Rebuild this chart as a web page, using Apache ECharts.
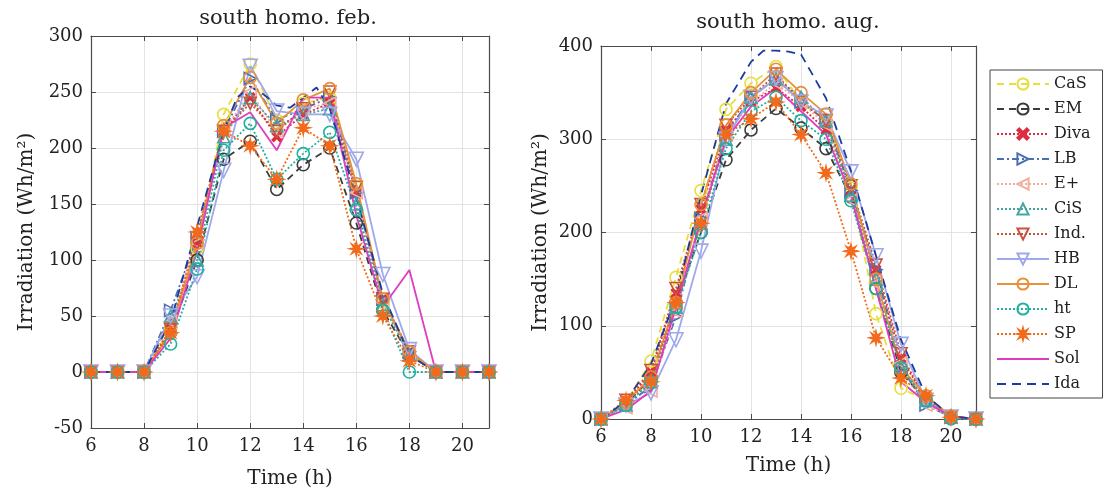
<!DOCTYPE html>
<html>
<head>
<meta charset="utf-8">
<script src="https://cdn.jsdelivr.net/npm/echarts@6/dist/echarts.min.js"></script>
<style>
  html, body { margin: 0; padding: 0; background: #fff; }
  #chart { width: 1111px; height: 498px; }
</style>
</head>
<body>
<div id="chart"></div>
<script>
// hourly samples, 6h .. 21h
const hours = [6, 7, 8, 9, 10, 11, 12, 13, 14, 15, 16, 17, 18, 19, 20, 21]

// --- february (left panel) ---
const febCaS  = [0, 0, 0, 40, 110, 230, 275, 225, 240, 245, 165, 62, 18, 0, 0, 0]
const febEM   = [0, 0, 0, 35, 100, 190, 206, 163, 185, 200, 133, 55, 15, 0, 0, 0]
const febDiva = [0, 0, 0, 38, 115, 215, 245, 210, 230, 240, 160, 65, 18, 0, 0, 0]
const febLB   = [0, 0, 0, 55, 120, 215, 262, 225, 235, 245, 160, 65, 18, 0, 0, 0]
const febEp   = [0, 0, 0, 45, 115, 215, 250, 215, 235, 240, 160, 62, 15, 0, 0, 0]
const febCiS  = [0, 0, 0, 50, 100, 210, 245, 220, 230, 235, 150, 60, 15, 0, 0, 0]
const febInd  = [0, 0, 0, 38, 115, 215, 240, 215, 235, 250, 165, 65, 18, 0, 0, 0]
const febHB   = [0, 0, 0, 50, 85, 180, 273, 233, 230, 230, 190, 87, 20, 0, 0, 0]
const febDL   = [0, 0, 0, 35, 115, 220, 263, 222, 243, 253, 168, 65, 18, 0, 0, 0]
const febHt   = [0, 0, 0, 25, 92, 198, 222, 172, 195, 214, 145, 55, 0, 0, 0, 0]
const febSP   = [0, 0, 0, 35, 125, 215, 202, 172, 218, 202, 110, 50, 10, 0, 0, 0]
const febSol  = [0, 0, 0, 30, 108, 218, 232, 198, 245, 245, 140, 58, 91, 0, 0, 0]
const idaFebHours = [6, 7, 8, 9, 10, 11, 11.5, 12, 12.5, 13, 13.5, 14, 14.5, 15, 16, 17, 18, 19, 20, 21]
const idaFeb      = [0, 0, 0, 45, 130, 215, 245, 255, 248, 238, 236, 245, 254, 235, 156, 70, 15, 0, 0, 0]

// --- august (right panel) ---
const augCaS  = [0, 18, 62, 152, 245, 332, 360, 378, 340, 320, 248, 113, 33, 20, 3, 0]
const augEM   = [0, 15, 45, 125, 200, 278, 310, 333, 312, 290, 238, 140, 50, 20, 2, 0]
const augDiva = [0, 18, 50, 135, 225, 310, 340, 355, 335, 310, 245, 160, 65, 22, 3, 0]
const augLB   = [0, 15, 35, 110, 215, 305, 345, 365, 340, 320, 245, 160, 55, 15, 2, 0]
const augEp   = [0, 12, 30, 115, 215, 305, 340, 360, 340, 315, 235, 145, 60, 15, 2, 0]
const augCiS  = [0, 15, 40, 120, 210, 300, 345, 365, 345, 320, 240, 150, 55, 20, 2, 0]
const augInd  = [0, 20, 52, 140, 230, 315, 345, 370, 340, 320, 250, 165, 70, 20, 2, 0]
const augHB   = [0, 15, 28, 85, 180, 300, 345, 365, 340, 325, 265, 175, 80, 20, 2, 0]
const augDL   = [0, 18, 45, 125, 230, 315, 350, 375, 350, 327, 252, 150, 55, 25, 3, 0]
const augHt   = [0, 15, 40, 120, 200, 290, 330, 345, 320, 300, 234, 140, 55, 20, 0, 0]
const augSP   = [0, 20, 40, 125, 210, 305, 322, 340, 305, 264, 180, 87, 44, 25, 2, 0]
const augSol  = [0, 10, 30, 120, 215, 300, 335, 355, 330, 305, 240, 140, 40, 18, 3, 0]
const idaAugHours = [6, 7, 8, 9, 10, 11, 12, 12.5, 13, 13.5, 14, 15, 16, 17, 18, 19, 20, 21]
const idaAug      = [0, 19, 59, 130, 240, 338, 383, 395, 395, 394, 391, 344, 266, 175, 85, 25, 3, 0]

const names = ['CaS', 'EM', 'Diva', 'LB', 'E+', 'CiS', 'Ind.', 'HB', 'DL', 'ht', 'SP', 'Sol', 'Ida']
const febSeries = [febCaS, febEM, febDiva, febLB, febEp, febCiS, febInd, febHB, febDL, febHt, febSP, febSol]
const augSeries = [augCaS, augEM, augDiva, augLB, augEp, augCiS, augInd, augHB, augDL, augHt, augSP, augSol]

// 8 point star for SP
const starPath = (() => {
  let d = ''
  for (let i = 0; i < 16; i++) {
    const r = i % 2 === 0 ? 5 : 2
    const a = (Math.PI / 8) * i - Math.PI / 2
    d += (i === 0 ? 'M' : 'L') + (5 + r * Math.cos(a)).toFixed(2) + ',' + (5 + r * Math.sin(a)).toFixed(2) + ' '
  }
  return 'path://' + d + 'Z'
})()

const NONE = 'rgba(0,0,0,0)'
const styles = {
  'CaS':  { color: '#e6df3c', type: [7, 5], symbol: 'circle', fill: NONE },
  'EM':   { color: '#3b3b3b', type: [7, 5], symbol: 'circle', fill: NONE },
  'Diva': { color: '#e02a40', type: [2, 2], symbol: 'path://M0,1.6 L1.6,0 L5,3.4 L8.4,0 L10,1.6 L6.6,5 L10,8.4 L8.4,10 L5,6.6 L1.6,10 L0,8.4 L3.4,5 Z', fill: '#e02a40', size: 9 },
  'LB':   { color: '#4a70b4', type: [7, 3, 2, 3], symbol: 'path://M0,0 L9,5 L0,10 Z', fill: NONE },
  'E+':   { color: '#f2ad9d', type: [2, 2], symbol: 'path://M9,0 L0,5 L9,10 Z', fill: NONE },
  'CiS':  { color: '#45a3a6', type: [2, 2], symbol: 'triangle', fill: NONE },
  'Ind.': { color: '#c9523a', type: [2, 2], symbol: 'path://M0,0 L10,0 L5,9 Z', fill: NONE },
  'HB':   { color: '#a0a8ec', type: 'solid', symbol: 'path://M0,0 L10,0 L5,9 Z', fill: NONE, size: 14 },
  'DL':   { color: '#e8903a', type: 'solid', symbol: 'circle', fill: NONE },
  'ht':   { color: '#1fb0a0', type: [2, 2], symbol: 'circle', fill: NONE },
  'SP':   { color: '#f26a1c', type: [2, 2], symbol: starPath, fill: '#f26a1c', size: 13 },
  'Sol':  { color: '#e03cbf', type: 'solid', symbol: 'none' },
  'Ida':  { color: '#1a3c9e', type: [9, 6], symbol: 'none' }
}

const makeSeries = (name, xs, vals, axis) => {
  const s = styles[name]
  return {
    name,
    type: 'line',
    xAxisIndex: axis,
    yAxisIndex: axis,
    data: xs.map((h, i) => [h, vals[i]]),
    symbol: s.symbol,
    symbolSize: s.size || 12,
    showAllSymbol: true,
    animation: false,
    lineStyle: { color: s.color, width: 1.8, type: s.type },
    itemStyle: { color: s.fill || s.color, borderColor: s.color, borderWidth: 1.6 },
    emphasis: { disabled: true }
  }
}

const series = []
names.slice(0, 12).forEach((n, i) => series.push(makeSeries(n, hours, febSeries[i], 0)))
series.push(makeSeries('Ida', idaFebHours, idaFeb, 0))
names.slice(0, 12).forEach((n, i) => series.push(makeSeries(n, hours, augSeries[i], 2)))
series.push(makeSeries('Ida', idaAugHours, idaAug, 2))

const FONT = 'DejaVu Serif'
const labelStyle = { color: '#222', fontFamily: FONT, fontSize: 18 }
const axisLine = { show: true, onZero: false, lineStyle: { color: '#4a4a4a', width: 1.2 } }
const tick = { show: true, inside: true, length: 5, lineStyle: { color: '#4a4a4a' } }

const xMain = (grid, gap) => ({
  type: 'value', gridIndex: grid, min: 6, max: 21, interval: 2,
  name: 'Time (h)', nameLocation: 'middle', nameGap: gap,
  nameTextStyle: { color: '#222', fontFamily: FONT, fontSize: 20 },
  axisLine, axisTick: tick,
  axisLabel: Object.assign({ margin: 9, showMaxLabel: false }, labelStyle),
  splitLine: { show: true, lineStyle: { color: '#e3e3e3' } }
})
const xTop = (grid) => ({
  type: 'value', gridIndex: grid, position: 'top', min: 6, max: 21, interval: 2,
  axisLine, axisTick: tick,
  axisLabel: { show: false }, splitLine: { show: false }
})
const yMain = (grid, min, max, step, gap) => ({
  type: 'value', gridIndex: grid, min, max, interval: step,
  name: 'Irradiation (Wh/m²)', nameLocation: 'middle', nameGap: gap,
  nameTextStyle: { color: '#222', fontFamily: FONT, fontSize: 20 },
  axisLine, axisTick: tick,
  axisLabel: Object.assign({ margin: 8 }, labelStyle),
  splitLine: { show: true, lineStyle: { color: '#e3e3e3' } }
})
const yRight = (grid, min, max, step) => ({
  type: 'value', gridIndex: grid, position: 'right', min, max, interval: step,
  axisLine, axisTick: tick,
  axisLabel: { show: false }, splitLine: { show: false }
})

// legend entries; the two plain lines get no marker
const legendData = names.map(n => styles[n].symbol === 'none'
  ? { name: n, itemStyle: { opacity: 0 } }
  : { name: n })

const chart = echarts.init(document.getElementById('chart'))
chart.setOption({
  backgroundColor: '#fff',
  animation: false,
  graphic: [
    { type: 'text', x: 288, y: 19, style: { text: 'south homo. feb.', font: '21px "DejaVu Serif"', fill: '#222', align: 'center', verticalAlign: 'middle' } },
    { type: 'text', x: 788, y: 23, style: { text: 'south homo. aug.', font: '21px "DejaVu Serif"', fill: '#222', align: 'center', verticalAlign: 'middle' } }
  ],
  grid: [
    { left: 91, top: 36, width: 398, height: 392 },
    { left: 601, top: 46, width: 375, height: 373 }
  ],
  xAxis: [xMain(0, 41), xTop(0), xMain(1, 37), xTop(1)],
  yAxis: [yMain(0, -50, 300, 50, 54), yRight(0, -50, 300, 50), yMain(1, 0, 400, 100, 50), yRight(1, 0, 400, 100)],
  legend: {
    data: legendData,
    orient: 'vertical',
    left: 990,
    top: 70,
    padding: [6, 12, 6, 6],
    itemWidth: 52,
    itemHeight: 14,
    itemGap: 9,
    borderColor: '#444',
    borderWidth: 1,
    textStyle: { color: '#222', fontFamily: FONT, fontSize: 16 },
    selectedMode: false
  },
  series
})
</script>
</body>
</html>
